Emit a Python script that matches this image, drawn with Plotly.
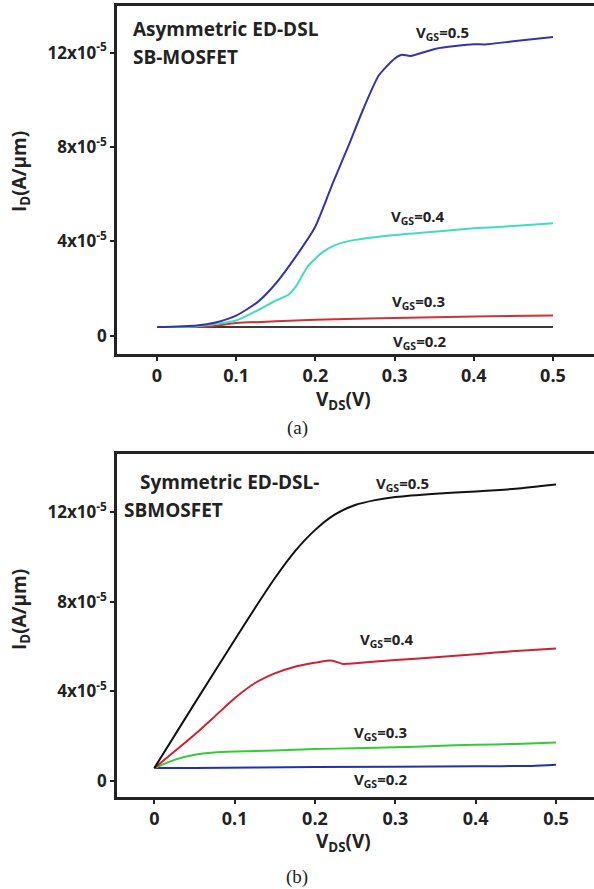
import plotly.graph_objects as go

# ---------- data (current in units of 1e-5 A/um) ----------
# Panel (a): Asymmetric ED-DSL SB-MOSFET
a_vgs05_x = [0, 0.05, 0.074, 0.1, 0.127, 0.15, 0.175, 0.2, 0.222, 0.242, 0.26, 0.28, 0.3, 0.309, 0.32, 0.352, 0.4, 0.414, 0.447, 0.5]
a_vgs05_y = [0.36, 0.43, 0.56, 0.85, 1.42, 2.21, 3.34, 4.63, 6.47, 8.07, 9.57, 11.03, 11.74, 11.91, 11.86, 12.17, 12.36, 12.35, 12.47, 12.67]
a_vgs04_x = [0, 0.05, 0.1, 0.127, 0.15, 0.165, 0.175, 0.19, 0.2, 0.21, 0.225, 0.25, 0.3, 0.35, 0.4, 0.45, 0.5]
a_vgs04_y = [0.36, 0.40, 0.64, 1.07, 1.49, 1.71, 2.07, 2.92, 3.27, 3.56, 3.84, 4.06, 4.27, 4.41, 4.55, 4.65, 4.77]
a_vgs03_x = [0, 0.05, 0.07, 0.1, 0.15, 0.2, 0.3, 0.4, 0.5]
a_vgs03_y = [0.36, 0.37, 0.40, 0.53, 0.61, 0.67, 0.75, 0.81, 0.85]
a_vgs02_x = [0, 0.1, 0.2, 0.3, 0.4, 0.5]
a_vgs02_y = [0.36, 0.36, 0.36, 0.36, 0.36, 0.36]

# Panel (b): Symmetric ED-DSL-SBMOSFET
b_vgs05_x = [0, 0.05, 0.1, 0.125, 0.15, 0.175, 0.2, 0.225, 0.25, 0.275, 0.3, 0.35, 0.4, 0.45, 0.5]
b_vgs05_y = [0.57, 3.45, 6.29, 7.70, 9.05, 10.25, 11.20, 11.90, 12.32, 12.54, 12.68, 12.83, 12.93, 13.05, 13.24]
b_vgs04_x = [0, 0.025, 0.05, 0.075, 0.1, 0.125, 0.15, 0.175, 0.2, 0.215, 0.222, 0.235, 0.25, 0.3, 0.35, 0.4, 0.45, 0.5]
b_vgs04_y = [0.57, 1.31, 2.06, 2.87, 3.69, 4.36, 4.80, 5.10, 5.28, 5.37, 5.37, 5.22, 5.25, 5.40, 5.52, 5.66, 5.80, 5.91]
b_vgs03_x = [0, 0.025, 0.05, 0.075, 0.1, 0.15, 0.2, 0.25, 0.3, 0.35, 0.4, 0.45, 0.5]
b_vgs03_y = [0.57, 0.94, 1.17, 1.27, 1.31, 1.36, 1.42, 1.46, 1.50, 1.56, 1.61, 1.65, 1.71]
b_vgs02_x = [0, 0.05, 0.2, 0.4, 0.47, 0.5]
b_vgs02_y = [0.57, 0.57, 0.62, 0.65, 0.67, 0.72]

x_tickvals = [0, 0.1, 0.2, 0.3, 0.4, 0.5]
x_ticktext = ["0", "0.1", "0.2", "0.3", "0.4", "0.5"]
y_tickvals = [0, 4, 8, 12]
y_ticktext = ["0", "4x10<sup>-5</sup>", "8x10<sup>-5</sup>", "12x10<sup>-5</sup>"]

# ---------- figure ----------
FONT = "Open Sans"
fig = go.Figure()

def line(x, y, color, xa, ya):
    fig.add_trace(go.Scatter(x=x, y=y, mode="lines", line=dict(color=color, width=2, shape="spline", smoothing=0.6),
                             xaxis=xa, yaxis=ya, showlegend=False, hoverinfo="skip"))

line(a_vgs02_x, a_vgs02_y, "#3a3a3a", "x", "y")
line(a_vgs03_x, a_vgs03_y, "#cc3333", "x", "y")
line(a_vgs04_x, a_vgs04_y, "#40dcc0", "x", "y")
line(a_vgs05_x, a_vgs05_y, "#3434a8", "x", "y")

line(b_vgs02_x, b_vgs02_y, "#2233aa", "x2", "y2")
line(b_vgs03_x, b_vgs03_y, "#33cc33", "x2", "y2")
line(b_vgs04_x, b_vgs04_y, "#cc2233", "x2", "y2")
line(b_vgs05_x, b_vgs05_y, "#111111", "x2", "y2")

W, H = 594, 889
dom_x = [117 / W, 1.0]

axis_common = dict(showgrid=False, zeroline=False, showline=True, linecolor="#222",
                   linewidth=2.5, ticks="outside", ticklen=4, tickwidth=2, tickcolor="#222")
xfont = dict(family=FONT, size=18, color="#222", weight="bold")
yfont = dict(family=FONT, size=17, color="#222", weight="bold")

fig.update_layout(
    width=W, height=H, margin=dict(l=0, r=0, t=0, b=0),
    paper_bgcolor="white", plot_bgcolor="white",
    xaxis=dict(domain=dom_x, range=[-0.0505, 0.5518], anchor="y", mirror=True,
               tickvals=x_tickvals, ticktext=x_ticktext, tickfont=xfont, **axis_common),
    yaxis=dict(domain=[1 - 354 / H, 1 - 6 / H], range=[-0.78, 13.98], anchor="x",
               tickvals=y_tickvals, ticktext=y_ticktext, tickfont=yfont, **axis_common),
    xaxis2=dict(domain=dom_x, range=[-0.0464, 0.5473], anchor="y2", mirror=True,
                tickvals=x_tickvals, ticktext=x_ticktext, tickfont=xfont, **axis_common),
    yaxis2=dict(domain=[1 - 797 / H, 1 - 454 / H], range=[-0.72, 14.6], anchor="x2",
                tickvals=y_tickvals, ticktext=y_ticktext, tickfont=yfont, **axis_common),
)

def ann(text, x, y, xref="paper", yref="paper", size=16, xanchor="center", yanchor="middle",
        angle=0, family=FONT, bold=True):
    fig.add_annotation(text=text, x=x, y=y, xref=xref, yref=yref, showarrow=False,
                       xanchor=xanchor, yanchor=yanchor, textangle=angle,
                       font=dict(family=family, size=size, color="#222",
                                 weight="bold" if bold else "normal"))

# curve labels
ann("V<sub>GS</sub>=0.5", 0.36, 12.85, "x", "y", size=15)
ann("V<sub>GS</sub>=0.4", 0.33, 5.05, "x", "y", size=15)
ann("V<sub>GS</sub>=0.3", 0.33, 1.42, "x", "y", size=15)
ann("V<sub>GS</sub>=0.2", 0.332, -0.27, "x", "y", size=15)

ann("V<sub>GS</sub>=0.5", 0.309, 13.27, "x2", "y2", size=15)
ann("V<sub>GS</sub>=0.4", 0.29, 6.29, "x2", "y2", size=15)
ann("V<sub>GS</sub>=0.3", 0.282, 2.16, "x2", "y2", size=15)
ann("V<sub>GS</sub>=0.2", 0.282, 0.05, "x2", "y2", size=15)

# panel titles
ann("Asymmetric ED-DSL", 131 / W, 1 - 29 / H, size=19, xanchor="left")
ann("SB-MOSFET", 131 / W, 1 - 57 / H, size=19, xanchor="left")
ann("Symmetric ED-DSL-", 138 / W, 1 - 482 / H, size=19, xanchor="left")
ann("SBMOSFET", 122 / W, 1 - 510 / H, size=19, xanchor="left")

# axis titles
ann("V<sub>DS</sub>(V)", 343 / W, 1 - 400 / H, size=19)
ann("V<sub>DS</sub>(V)", 343 / W, 1 - 842 / H, size=19)
ann("I<sub>D</sub>(A/μm)", 20 / W, 1 - 172 / H, size=19, angle=-90)
ann("I<sub>D</sub>(A/μm)", 20 / W, 1 - 610 / H, size=19, angle=-90)

# sub-figure captions
ann("(a)", 0.5, 1 - 428 / H, size=19, family="Liberation Serif", bold=False)
ann("(b)", 0.5, 1 - 877 / H, size=19, family="Liberation Serif", bold=False)

fig.write_html("out.html")
